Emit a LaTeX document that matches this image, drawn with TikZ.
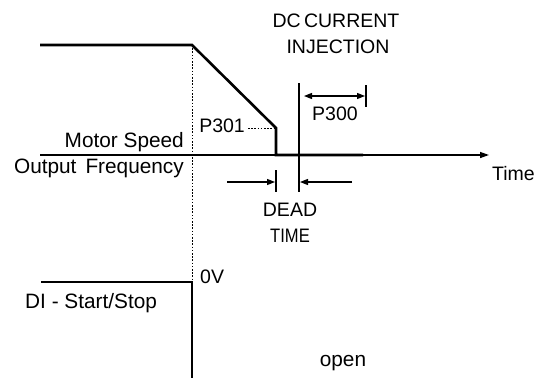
\documentclass[tikz,border=0pt]{standalone}
\usepackage{fontspec}
\setmainfont{Liberation Sans}
\usetikzlibrary{arrows.meta}
\begin{document}
\begin{tikzpicture}[x=1pt,y=-1pt,
  lbl/.style={inner sep=0pt,font=\fontsize{19.5}{22}\selectfont},
  lblw/.style={inner sep=0pt,font=\fontsize{20.8}{23}\selectfont},
  thickline/.style={line width=2.6pt,line join=miter},
  axisline/.style={line width=1.3pt},
  thinline/.style={line width=1.3pt},
  dotline/.style={line width=0.8pt,dash pattern=on 1.6pt off 1.6pt},
  tip/.style={-{Triangle[length=8pt,width=6pt]}},
]
\useasboundingbox (0,0) rectangle (535,378);
% coordinates
\coordinate (s0) at (40,45);
\coordinate (s1) at (192,45);
\coordinate (s2) at (276,128);
\coordinate (s3) at (276,155);
\coordinate (s4) at (363,155);
\coordinate (ax0) at (40,155);
\coordinate (ax1) at (489,155);
\coordinate (dv0) at (192,45);
\coordinate (dv1) at (192,281);
\coordinate (d0) at (41,282);
\coordinate (d1) at (192,282);
\coordinate (d2) at (192,378);
\coordinate (p0) at (248,128);
\coordinate (inj0) at (299,83);
\coordinate (inj1) at (299,192);
\coordinate (pa0) at (304,96);
\coordinate (pa1) at (365,96);
\coordinate (pb0) at (366,85);
\coordinate (pb1) at (366,107);
\coordinate (db0) at (276,170);
\coordinate (db1) at (276,192);
\coordinate (dl0) at (227,182);
\coordinate (dl1) at (275,182);
\coordinate (dr0) at (352,182);
\coordinate (dr1) at (300,182);

% axis and lines
\draw[axisline,-{Triangle[length=9pt,width=6pt]}] (ax0) -- (ax1);
\draw[dotline] (dv0) -- (dv1);
\draw[dotline] (p0) -- (s2);
\draw[thickline] (s0) -- (s1) -- (s2) -- (s3) -- (s4);
\draw[thickline] (d0) -- (d1) -- (d2);
\draw[thinline] (inj0) -- (inj1);
\draw[thinline,{Triangle[length=8pt,width=6pt]}-{Triangle[length=8pt,width=6pt]}] (pa0) -- (pa1);
\draw[thinline] (pb0) -- (pb1);
\draw[thinline] (db0) -- (db1);
\draw[thinline,tip] (dl0) -- (dl1);
\draw[thinline,tip] (dr0) -- (dr1);

% labels
\node[lbl,anchor=base] (dc) at (336,27) {DC\,CURRENT};
\node[lbl,anchor=base] (inj) at (338,53) {INJECTION};
\node[lbl,anchor=base east] (p301) at (245,132) {P301};
\node[lbl,anchor=base] (p300) at (335,120) {P300};
\node[lblw,anchor=base east] (ms) at (184,147) {Motor Speed};
\node[lblw,anchor=base east] (of) at (184,173) {Output\hspace{9pt}Frequency};
\node[lbl,anchor=base west] (time) at (492,180) {Time};
\node[lbl,anchor=base] (dead) at (290,216) {DEAD};
\node[lbl,anchor=base] (tm) at (290,242) {\addfontfeature{FakeStretch=0.85}TIME};
\node[lbl,anchor=base west] (zv) at (200,283) {0V};
\node[lblw,anchor=base west] (di) at (25,308) {DI - Start/Stop};
\node[lblw,anchor=base] (open) at (343,366) {open};
\end{tikzpicture}
\end{document}
